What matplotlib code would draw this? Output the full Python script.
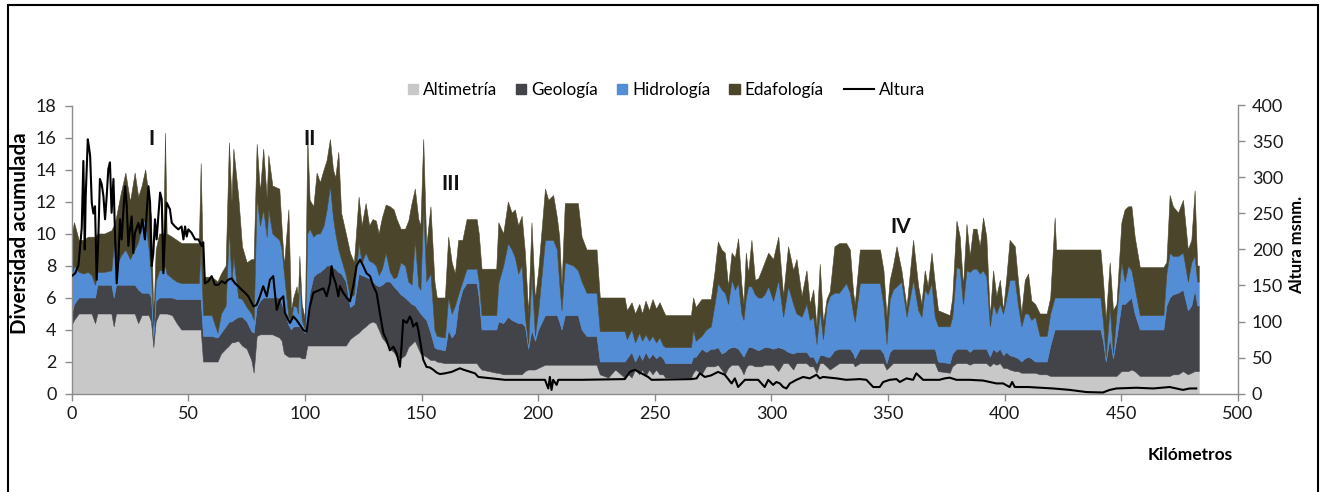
import numpy as np
import matplotlib
matplotlib.use("Agg")
import matplotlib.pyplot as plt
from matplotlib.patches import Rectangle, Patch
from matplotlib.lines import Line2D
from matplotlib.legend_handler import HandlerPatch, HandlerBase

plt.rcParams['font.family'] = ['Lato', 'DejaVu Sans']

# ---------------- data ----------------
km = [0, 1, 3, 5, 7, 8.5, 10, 11, 14, 17,
      18, 19, 21, 23, 25, 27, 28.5, 30, 31.5, 33,
      34, 35, 36, 37.5, 39.3, 40, 40.7, 43, 45, 47,
      52, 54.5, 55.3, 56.3, 60, 62.5, 64, 66, 67.4, 68.5,
      69.3, 71.4, 73, 75, 77, 78, 79.3, 80.7, 82.1, 83.6,
      84.3, 86, 89, 90, 91, 92.9, 94, 95, 96.4, 97,
      97.6, 98.6, 100, 101, 102, 103.6, 105, 106.4, 108, 109.3,
      110.7, 112, 113, 114.3, 115.5, 117.5, 119.3, 121, 123, 124.3,
      126, 127.5, 129, 130.4, 131.6, 133, 134.6, 136.4, 138, 139.3,
      141, 142.9, 144.3, 145.7, 147.1, 148.6, 149.5, 150.7, 152, 153.8,
      155.5, 156.5, 160, 161.4, 162.9, 164.3, 165.7, 167.5, 169.3, 173.6,
      174.5, 175.7, 182, 182.9, 185, 187, 188.6, 190, 191.4, 192.9,
      194.3, 195.7, 197.1, 198.6, 200, 202.9, 204.3, 206.4, 208, 209,
      210, 211.4, 215, 217, 218.6, 220.7, 225, 226.4, 230, 233,
      237, 238, 240, 241.5, 243.3, 244.5, 246, 247.5, 249, 250.5,
      252, 253.5, 254.5, 265.5, 266.4, 267.5, 270, 272, 274, 275.5,
      277, 278.6, 280, 281.4, 282.9, 284.3, 285.7, 287.1, 288, 289,
      290, 291.4, 292.9, 294.3, 295.7, 297, 298.6, 300.7, 302.9, 305,
      307.1, 309.3, 310.7, 312.9, 315, 316.4, 317.9, 319.3, 320.7, 322.1,
      323.6, 325, 327, 329, 332, 333.6, 335, 335.7, 337.9, 346.5,
      348, 349.3, 350.7, 352.1, 353.6, 355.7, 357.9, 360.7, 362.9, 364.3,
      365.7, 367, 368.6, 370, 371.4, 376.4, 377.5, 379.3, 380.7, 382.1,
      383.6, 385, 386.4, 387.9, 389.3, 390.7, 392.1, 393.6, 395, 396.4,
      397.9, 399.3, 400.7, 402.1, 404.3, 405.7, 407.1, 408.6, 410, 411.4,
      413, 415, 418, 419.5, 421.4, 422, 441, 442.1, 443.3, 445,
      446.4, 447.9, 450, 451.4, 452.9, 454.3, 455.7, 457.9, 468, 469.3,
      470.7, 472.1, 474.3, 476.4, 478.5, 480, 481.4, 482.5, 483.2]

altimetria = [4.3, 4.6, 5.0, 5.0, 5.0, 5.0, 4.4, 5.0, 5.0, 5.0,
              4.2, 5.0, 5.0, 5.0, 5.0, 5.0, 4.4, 4.9, 4.9, 4.9,
              4.5, 2.9, 4.5, 5.0, 5.0, 5.0, 5.0, 4.9, 4.4, 4.0,
              4.0, 4.0, 4.0, 2.0, 2.0, 2.0, 2.5, 2.8, 3.0, 3.2,
              3.2, 3.3, 3.0, 2.8, 2.1, 1.3, 3.6, 3.7, 3.7, 3.7,
              3.7, 3.7, 3.5, 3.3, 2.5, 2.3, 2.3, 2.3, 2.3, 2.3,
              2.3, 2.2, 2.2, 3.0, 3.0, 3.0, 3.0, 3.0, 3.0, 3.0,
              3.0, 3.0, 3.0, 3.0, 3.0, 3.0, 3.4, 3.6, 3.8, 4.0,
              4.2, 4.4, 4.5, 4.4, 4.0, 3.5, 3.2, 2.8, 2.6, 2.3,
              2.2, 2.4, 2.9, 3.1, 3.3, 2.8, 2.5, 2.4, 2.3, 2.1,
              2.1, 2.0, 1.9, 1.9, 1.9, 1.9, 1.9, 1.9, 1.9, 1.9,
              1.7, 1.5, 1.3, 1.3, 1.2, 1.2, 1.2, 1.2, 1.2, 1.2,
              1.4, 1.5, 1.5, 1.5, 1.6, 1.8, 1.8, 1.8, 1.8, 1.8,
              1.8, 1.8, 1.8, 1.8, 1.8, 1.8, 1.8, 1.2, 1.0, 1.5,
              1.0, 1.3, 1.0, 1.5, 1.2, 1.5, 1.1, 1.5, 1.2, 1.5,
              1.2, 1.2, 1.0, 1.0, 1.3, 1.5, 1.2, 1.7, 1.7, 1.7,
              1.8, 1.5, 1.2, 1.6, 1.8, 1.8, 1.8, 1.5, 1.2, 1.6,
              1.8, 1.8, 1.7, 1.7, 1.7, 1.8, 1.8, 1.8, 1.4, 1.9,
              1.9, 1.5, 1.9, 1.9, 1.9, 1.7, 1.7, 1.3, 1.9, 1.9,
              1.7, 1.5, 1.7, 1.9, 1.9, 1.9, 1.9, 1.7, 1.9, 1.9,
              1.9, 1.5, 1.7, 1.9, 1.9, 1.9, 1.9, 1.9, 1.9, 1.9,
              1.9, 1.9, 1.9, 1.9, 1.4, 1.3, 1.7, 1.9, 1.9, 1.9,
              1.9, 1.8, 1.9, 1.9, 1.9, 1.9, 1.9, 1.7, 1.9, 1.8,
              1.9, 1.6, 1.6, 1.5, 1.4, 1.4, 1.3, 1.3, 1.3, 1.3,
              1.3, 1.2, 1.2, 1.1, 1.1, 1.1, 1.1, 1.1, 1.1, 1.1,
              1.1, 1.1, 1.4, 1.4, 1.4, 1.5, 1.4, 1.1, 1.1, 1.1,
              1.1, 1.2, 1.2, 1.4, 1.2, 1.3, 1.4, 1.4, 1.4]

geologia = [0.7, 1.0, 1.0, 1.0, 1.0, 1.0, 1.6, 1.8, 1.8, 1.8,
            1.8, 1.8, 1.8, 1.8, 1.8, 1.8, 2.1, 1.4, 1.4, 1.4,
            1.5, 0.6, 1.3, 1.0, 1.0, 1.0, 1.0, 1.1, 1.5, 1.9,
            1.9, 1.9, 1.9, 1.6, 1.6, 1.5, 1.3, 1.4, 1.5, 1.3,
            1.4, 1.5, 1.8, 1.7, 1.8, 2.5, 1.8, 2.1, 2.3, 2.3,
            2.3, 2.3, 2.5, 2.3, 2.7, 2.0, 1.7, 1.9, 1.9, 1.9,
            1.9, 1.8, 1.6, 2.0, 3.3, 4.3, 4.5, 4.6, 4.8, 5.0,
            5.0, 4.9, 4.8, 4.6, 4.5, 4.0, 2.0, 2.0, 3.7, 3.4,
            3.1, 2.8, 2.5, 2.4, 2.7, 3.3, 3.8, 4.2, 4.1, 4.2,
            4.0, 3.6, 2.9, 2.5, 2.2, 2.4, 2.5, 2.4, 2.3, 1.7,
            0.8, 0.8, 0.8, 2.1, 1.6, 1.9, 3.6, 4.6, 5.0, 5.0,
            4.3, 2.5, 2.7, 3.2, 3.2, 3.6, 3.4, 3.3, 3.2, 3.2,
            2.8, 1.3, 2.5, 1.8, 2.4, 3.1, 3.1, 3.1, 3.1, 2.7,
            2.2, 3.1, 3.1, 3.1, 2.2, 1.8, 1.8, 0.8, 1.0, 0.5,
            1.0, 0.9, 1.6, 0.5, 1.3, 0.6, 1.5, 0.7, 1.3, 0.7,
            1.2, 1.0, 0.9, 0.9, 1.0, 0.8, 1.6, 0.9, 1.1, 1.1,
            1.1, 1.0, 1.4, 1.2, 1.1, 1.1, 1.0, 1.0, 1.1, 1.0,
            1.1, 1.1, 1.1, 1.0, 1.1, 1.1, 1.1, 1.0, 1.5, 0.9,
            0.7, 1.0, 0.7, 0.7, 0.7, 0.6, 0.6, 0.6, 0.5, 0.5,
            0.6, 0.8, 1.0, 0.9, 0.9, 0.9, 0.6, 0.5, 0.9, 0.9,
            0.6, 0.4, 0.9, 0.9, 0.9, 0.9, 0.9, 0.9, 0.9, 0.9,
            0.9, 0.9, 0.9, 0.9, 0.6, 0.6, 0.8, 0.9, 0.9, 0.9,
            0.9, 0.8, 0.9, 0.9, 0.9, 0.9, 0.9, 0.6, 0.9, 0.8,
            0.9, 0.8, 1.0, 0.9, 0.9, 0.8, 0.7, 0.9, 1.0, 0.9,
            0.7, 0.8, 0.8, 1.9, 2.9, 2.9, 2.9, 2.2, 0.9, 2.4,
            1.1, 2.4, 4.2, 4.2, 4.4, 4.5, 3.6, 2.9, 2.9, 4.4,
            4.9, 5.0, 5.1, 5.1, 4.0, 4.2, 5.1, 4.1, 4.1]

hidrologia = [2.4, 2.4, 1.6, 1.5, 1.6, 1.4, 0.8, 0.8, 0.8, 0.9,
              3.4, 1.2, 1.8, 2.2, 1.6, 2.2, 3.0, 4.2, 4.6, 2.7,
              1.5, 0.7, 1.2, 1.7, 1.7, 2.0, 1.5, 1.2, 1.1, 1.0,
              1.0, 1.0, 3.3, 1.3, 1.3, 0.3, 1.2, 1.3, 5.8, 2.5,
              3.9, 1.2, 1.1, 0.9, 1.1, 0.8, 6.9, 4.7, 5.5, 3.8,
              5.5, 4.0, 3.6, 3.4, 2.3, 0.5, 0.6, 1.3, 1.2, 0.8,
              3.1, 0.6, 0.2, 5.0, 4.0, 2.5, 2.5, 2.4, 2.7, 3.5,
              5.0, 3.1, 2.2, 1.4, 0.9, 0.4, 0.6, 0.6, 1.9, 0.8,
              1.5, 1.1, 1.2, 1.2, 0.7, 1.0, 1.8, 0.6, 0.5, 0.8,
              2.0, 2.0, 1.2, 1.2, 4.1, 1.5, 1.5, 6.9, 2.4, 3.7,
              1.1, 0.8, 0.8, 2.0, 1.5, 1.7, 0.7, 0.5, 0.9, 0.9,
              1.0, 0.9, 0.9, 2.4, 3.6, 4.6, 4.4, 4.0, 3.1, 3.6,
              0.6, 0.3, 3.5, 0.3, 1.2, 4.7, 4.7, 4.7, 4.1, 2.4,
              1.2, 3.3, 3.1, 2.8, 3.0, 2.7, 2.7, 1.9, 1.9, 1.9,
              1.9, 1.2, 1.4, 1.2, 1.3, 1.2, 1.1, 1.1, 1.1, 1.0,
              1.1, 0.8, 1.0, 1.0, 1.7, 1.0, 0.8, 1.4, 1.4, 2.7,
              4.0, 4.0, 3.7, 2.8, 4.2, 3.6, 4.1, 2.5, 2.3, 3.4,
              3.8, 3.8, 3.4, 3.3, 3.2, 3.3, 3.8, 3.0, 4.2, 2.0,
              4.1, 3.1, 2.4, 2.2, 3.0, 2.3, 2.5, 1.2, 2.8, 1.0,
              3.2, 3.8, 3.6, 3.5, 4.1, 3.5, 2.5, 2.3, 4.1, 4.1,
              3.0, 1.2, 3.3, 3.7, 3.9, 4.2, 2.0, 4.3, 2.4, 2.0,
              3.7, 3.4, 4.1, 2.0, 2.2, 2.3, 2.3, 5.1, 5.0, 2.8,
              4.9, 5.0, 5.0, 5.0, 4.7, 4.9, 4.5, 1.9, 2.8, 2.4,
              2.8, 2.6, 3.4, 4.7, 4.8, 3.3, 2.2, 2.8, 2.7, 2.4,
              2.8, 1.6, 1.6, 2.0, 2.0, 2.0, 2.0, 1.2, 0.3, 1.9,
              0.3, 1.5, 2.6, 1.4, 2.2, 1.7, 1.6, 0.9, 0.9, 2.0,
              2.8, 2.4, 2.3, 2.3, 1.8, 2.7, 2.1, 1.5, 1.5]

edafologia = [2.6, 2.7, 2.0, 2.1, 2.2, 2.4, 3.0, 2.4, 2.4, 2.5,
              1.1, 3.0, 3.9, 4.8, 3.6, 4.8, 2.8, 2.5, 3.1, 3.3,
              3.5, 0.4, 2.0, 2.3, 2.3, 8.3, 2.5, 2.6, 2.6, 2.5,
              2.5, 2.5, 5.2, 2.4, 2.4, 3.2, 2.5, 2.5, 5.4, 5.0,
              6.8, 6.3, 3.3, 2.8, 3.4, 3.8, 3.3, 2.1, 3.8, 2.4,
              3.4, 3.0, 3.2, 1.3, 0.5, 6.7, 0.6, 0.5, 1.3, 1.0,
              1.3, 1.0, 0.6, 6.0, 1.8, 1.9, 3.8, 3.2, 3.5, 3.1,
              2.9, 3.0, 3.5, 6.1, 2.9, 2.6, 2.8, 2.0, 2.9, 2.3,
              3.1, 2.2, 2.7, 2.8, 2.6, 3.2, 3.0, 4.1, 4.3, 3.6,
              2.1, 2.3, 3.8, 5.1, 3.2, 4.2, 4.0, 4.2, 2.2, 4.2,
              3.0, 2.4, 2.5, 3.8, 3.2, 2.0, 3.4, 2.6, 3.1, 3.1,
              3.0, 2.9, 2.9, 3.8, 2.0, 2.6, 2.3, 3.0, 3.0, 3.1,
              4.0, 1.9, 3.2, 2.3, 2.5, 3.2, 2.5, 2.8, 2.0, 2.9,
              1.5, 3.7, 3.9, 4.2, 2.8, 2.7, 2.7, 2.1, 2.1, 2.1,
              2.1, 1.8, 1.7, 1.8, 1.8, 1.7, 2.1, 1.9, 2.3, 2.1,
              2.2, 2.2, 2.0, 2.0, 2.0, 2.1, 2.3, 1.9, 1.7, 2.0,
              2.6, 2.5, 2.5, 1.1, 1.7, 2.0, 2.8, 1.8, 1.0, 2.8,
              0.8, 2.9, 0.9, 1.2, 1.7, 2.0, 2.1, 2.6, 2.7, 1.3,
              2.5, 2.1, 3.4, 1.3, 2.1, 1.0, 1.7, 1.1, 2.9, 1.0,
              0.4, 0.3, 2.9, 3.1, 2.5, 2.7, 1.3, 1.1, 2.1, 2.1,
              2.2, 1.7, 1.2, 1.5, 2.5, 0.7, 0.6, 2.5, 1.5, 0.8,
              1.2, 0.5, 1.9, 2.1, 1.0, 0.7, 1.2, 2.9, 2.0, 1.1,
              2.9, 1.0, 2.5, 2.5, 1.7, 3.3, 2.5, 0.6, 2.1, 1.1,
              1.5, 0.2, 1.3, 2.5, 2.1, 1.5, 0.8, 2.1, 2.5, 1.2,
              0.8, 1.4, 1.4, 1.0, 5.0, 3.0, 3.0, 2.6, 2.3, 2.8,
              2.7, 0.6, 2.5, 4.5, 3.7, 4.0, 3.2, 3.0, 3.0, 0.7,
              3.6, 3.1, 2.7, 3.3, 2.0, 1.4, 4.1, 1.0, 1.0]

km_altura = [0, 1.5, 2.9, 4.3, 5, 5.6, 6, 6.9, 7.5, 7.9,
             8.6, 9.3, 10, 10.7, 11.4, 12.1, 12.9, 13.6, 14.3, 15,
             15.7, 16.4, 17.1, 17.9, 18.6, 19.3, 20, 20.7, 21.4, 22.1,
             22.9, 23.6, 24.3, 25, 25.7, 26.4, 27.1, 28.6, 29.3, 30.3,
             31.4, 32.9, 33.6, 34.3, 35, 35.7, 36.4, 37.9, 38.6, 39.3,
             40, 40.7, 42.1, 42.9, 44.3, 45.7, 47.1, 47.9, 48.6, 49.3,
             50, 51.4, 52.9, 54.3, 55.7, 56.4, 57.1, 58.6, 60, 61.4,
             62.9, 64.3, 65.7, 67.1, 68.6, 70, 71.4, 72.9, 74.3, 75.7,
             77.1, 77.9, 79.3, 80.7, 82.1, 83.6, 85, 86.4, 87.1, 87.9,
             89.3, 90.7, 91.4, 92.9, 93.6, 95, 96.4, 97.9, 99.3, 100.7,
             102.1, 103.6, 105, 106.4, 107.9, 109.3, 110.7, 111.4, 112.1, 113.2,
             114.3, 115, 116.4, 117.9, 119.3, 120.7, 122.1, 123.6, 125, 126.4,
             127.9, 129.3, 130.7, 132.1, 133.6, 135, 136.4, 137.9, 139.3, 140.7,
             141.4, 142.1, 143.6, 145, 145.7, 146.4, 147.9, 148.6, 149.3, 150.7,
             152.1, 153.6, 155, 156.5, 157.9, 160, 162.9, 165, 166.4, 168,
             170, 172.9, 174.3, 180, 185.7, 194.3, 202.9, 204.3, 205, 205.7,
             206.4, 207.9, 208.6, 218.6, 237.1, 239.3, 241.4, 244.3, 247.1, 248.6,
             265.7, 267.9, 269.3, 271.4, 274, 277.1, 280, 282.9, 284.3, 285.7,
             288.6, 294.3, 297.1, 298.6, 300.7, 302.1, 303.6, 305, 306.4, 307.9,
             310.7, 313.6, 316.4, 319.3, 320.7, 322.1, 327.9, 332, 337.9, 340.7,
             343.6, 346.4, 347.9, 350.7, 353.6, 355, 357.9, 360.7, 362.1, 365,
             372, 374.3, 376.4, 379.3, 385, 390.7, 393.6, 396.4, 399.3, 402.1,
             403.2, 404.3, 410, 420.7, 427.9, 435, 442.1, 445, 447.9, 456.4,
             463.6, 470.7, 473.6, 476.4, 479.3, 482.1]

altura = [163, 167, 178, 230, 323, 200, 274, 353, 340, 330,
          265, 250, 260, 158, 214, 298, 290, 274, 242, 274,
          312, 321, 251, 298, 218, 153, 186, 242, 214, 251,
          288, 260, 205, 228, 246, 195, 223, 237, 223, 242,
          214, 288, 265, 177, 195, 242, 214, 279, 270, 167,
          223, 265, 256, 237, 232, 228, 232, 214, 232, 218,
          228, 223, 214, 214, 205, 210, 153, 156, 163, 151,
          151, 156, 153, 158, 160, 153, 149, 144, 140, 135,
          126, 121, 123, 135, 149, 135, 158, 163, 140, 116,
          130, 135, 112, 102, 98, 107, 102, 95, 88, 86,
          121, 140, 142, 144, 146, 135, 153, 177, 163, 153,
          135, 149, 140, 133, 128, 149, 177, 186, 177, 167,
          163, 149, 140, 112, 84, 74, 60, 65, 56, 37,
          65, 102, 98, 107, 102, 93, 98, 88, 74, 47,
          37, 36, 33, 29, 27, 28, 30, 33, 35, 33,
          31, 28, 23, 21, 19, 19, 19, 7, 23, 5,
          19, 12, 19, 19, 20, 30, 33, 28, 23, 19,
          20, 21, 28, 23, 25, 30, 26, 14, 21, 9,
          19, 19, 9, 19, 12, 16, 14, 9, 7, 14,
          19, 23, 21, 26, 21, 23, 21, 19, 20, 19,
          9, 9, 16, 19, 20, 16, 21, 19, 28, 19,
          19, 21, 22, 19, 19, 18, 16, 14, 14, 9,
          16, 9, 9, 7, 5, 2, 1.4, 5, 7, 8,
          7, 9, 7, 5, 7, 7]

nombres = ["Altimetría", "Geología", "Hidrología", "Edafología"]
colores = ["#C8C8C8", "#434449", "#528DD6", "#4B462B"]

etiquetas_tramo = ["I", "II", "III", "IV"]
km_tramo = [34.0, 101.8, 162.6, 355.6]
y_tramo = [15.9, 15.9, 13.1, 10.4]

# ---------------- figure ----------------
W, H = 1327, 492
fig = plt.figure(figsize=(W / 100, H / 100), dpi=100)
ax = fig.add_axes([71.7 / W, (H - 393.5) / H, (1238 - 71.7) / W, 288 / H])

polys = ax.stackplot(km, altimetria, geologia, hidrologia, edafologia,
                     colors=colores, labels=nombres)
for p, c in zip(polys, colores):
    p.set_edgecolor(c)
    p.set_linewidth(0.4)

ax.set_xlim(0, 500)
ax.set_ylim(0, 18)
ax.set_xticks(np.arange(0, 501, 50))
ax.set_yticks(np.arange(0, 19, 2))

ax2 = ax.twinx()
linea, = ax2.plot(km_altura, altura, color="black", lw=1.5, label="Altura")
ax2.set_ylim(0, 400)
ax2.set_yticks(np.arange(0, 401, 50))

spine_c = "#8C8C8C"
for a in (ax, ax2):
    for s in a.spines.values():
        s.set_visible(False)
ax.spines["left"].set_visible(True)
ax.spines["bottom"].set_visible(True)
ax2.spines["right"].set_visible(True)
for s in (ax.spines["left"], ax.spines["bottom"], ax2.spines["right"]):
    s.set_color(spine_c)
    s.set_linewidth(1.0)

ax.tick_params(axis="both", direction="out", length=5, width=1, color=spine_c,
               labelsize=13, labelcolor="#1a1a1a")
ax.tick_params(axis="y", pad=6)
ax.tick_params(axis="x", pad=4)
ax2.tick_params(axis="y", direction="out", length=5, width=1, color=spine_c,
                labelsize=13, labelcolor="#1a1a1a", pad=5)

ax.set_ylabel("Diversidad acumulada", fontsize=14.8, fontweight="bold")
ax.yaxis.label.set_verticalalignment("center")
ax.yaxis.set_label_coords((20 - 71.7) / (1238 - 71.7), (393.5 - 233) / 288)
ax2.set_ylabel("Altura msnm.", fontsize=12, fontweight="bold", rotation=90)
ax2.yaxis.label.set_verticalalignment("center")
ax2.yaxis.set_label_coords((1297 - 71.7) / (1238 - 71.7), (393.5 - 245) / 288)
ax.set_xlabel("Kilómetros", fontsize=12.5, fontweight="bold")
ax.xaxis.set_label_coords((1190 - 71.7) / (1238 - 71.7), (393.5 - 447) / 288)

for t, xk, yv in zip(etiquetas_tramo, km_tramo, y_tramo):
    ax.text(xk, yv, t, ha="center", va="center", fontsize=15,
            fontweight="bold", color="#111111")

# legend
def cuadro(legend, orig_handle, xdescent, ydescent, width, height, fontsize):
    s = 0.85 * height
    return Rectangle((-xdescent + width - s, -ydescent + (height - s) / 2), s, s)


class LineaLeyenda(HandlerBase):
    """Line handle with extra room before it (gap 20 px, line 30 px)."""
    def legend_artist(self, legend, orig_handle, fontsize, handlebox):
        gap = 20 * 0.72
        largo = 30 * 0.72
        handlebox.width = gap + largo
        y = (handlebox.height - handlebox.ydescent) / 2
        x0 = -handlebox.xdescent + gap
        ln = Line2D([x0, x0 + largo], [y, y], color=orig_handle.get_color(),
                    lw=orig_handle.get_linewidth())
        handlebox.add_artist(ln)
        return ln


handles = [Patch(facecolor=c, edgecolor=c) for c in colores] + [linea]
labels = nombres + ["Altura"]
hm = {h: HandlerPatch(patch_func=cuadro) for h in handles[:4]}
hm[linea] = LineaLeyenda()
fig.legend(handles, labels, loc="center", bbox_to_anchor=(657 / W, 1 - 90 / H),
           ncol=5, frameon=False, fontsize=12.3, handlelength=1.7,
           handletextpad=0.3, columnspacing=0.0, handler_map=hm)

# outer frame
fig.patches.append(Rectangle((7.5 / W, -0.05), (1318 - 7.5) / W, 1 + 0.05 - 4.5 / H,
                             transform=fig.transFigure, fill=False,
                             edgecolor="black", linewidth=1.5))

fig.savefig("out.png", dpi=100)
